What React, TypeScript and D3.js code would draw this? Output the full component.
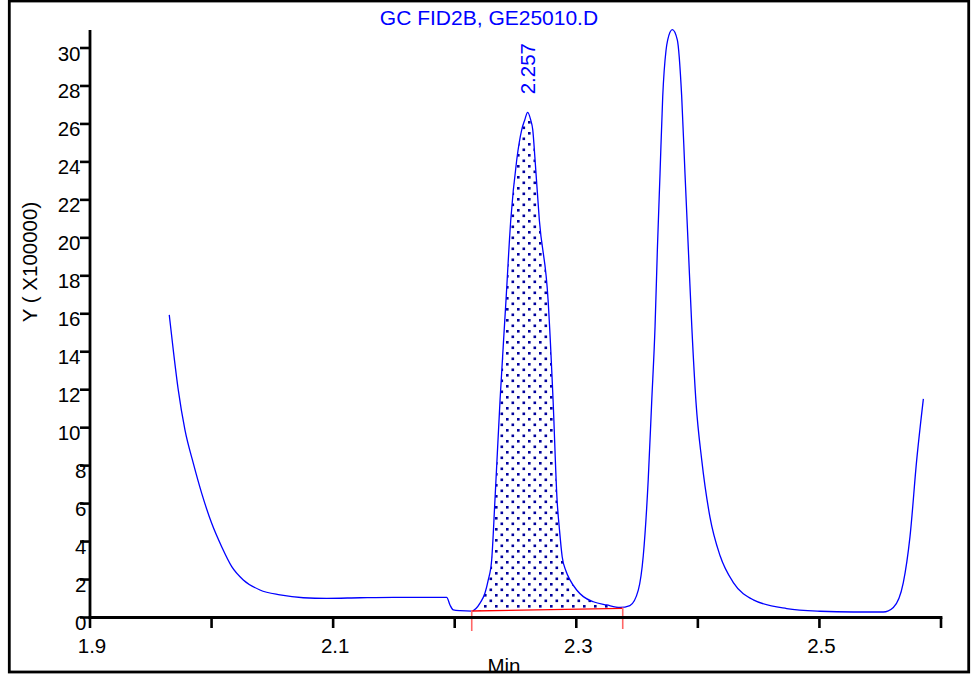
import React from "react";
import * as d3 from "d3";

// Chromatogram trace
const retentionMin = [
  1.9652, 1.9685, 1.9726, 1.9781, 1.985, 1.9919, 2.0001, 2.0083, 2.0166, 2.0261,
  2.0398, 2.0563, 2.0755, 2.0947, 2.1221, 2.1495, 2.1934, 2.1961, 2.1988, 2.2044,
  2.214, 2.2175, 2.2208, 2.2249, 2.2276, 2.2304, 2.2331, 2.2373, 2.2422, 2.2461,
  2.251, 2.2551, 2.2576, 2.26, 2.2625, 2.2642, 2.2661, 2.2696, 2.2768, 2.2809,
  2.2842, 2.2862, 2.2884, 2.2915, 2.2948, 2.3003, 2.3058, 2.314, 2.325, 2.336,
  2.3441, 2.351, 2.3551, 2.3592, 2.362, 2.3648, 2.3667, 2.3689, 2.3711, 2.3738,
  2.3752, 2.379, 2.3831, 2.3867, 2.3894, 2.3922, 2.395, 2.3985, 2.4032, 2.41,
  2.4183, 2.4292, 2.4456, 2.4731, 2.5005, 2.5279, 2.5525, 2.5608, 2.569, 2.5745,
  2.58, 2.5855,
];
const signal = [
  15.94, 14.09, 11.99, 9.88, 8.12, 6.54, 4.96, 3.73, 2.68, 1.98,
  1.45, 1.19, 1.04, 1.01, 1.04, 1.06, 1.06, 0.66, 0.4, 0.36,
  0.34, 0.47, 0.76, 1.29, 1.98, 3.03, 6.19, 11.46, 16.73, 20.94,
  24.1, 25.69, 26.21, 26.61, 26.21, 25.69, 24.1, 20.94, 16.73, 11.46,
  6.19, 4.6, 3.2, 2.45, 1.98, 1.45, 1.1, 0.83, 0.66, 0.53,
  0.63, 1.44, 3.25, 7.29, 11.32, 15.35, 19.38, 23.41, 27.45, 29.87,
  30.43, 30.97, 30.43, 27.45, 23.41, 19.38, 15.35, 11.32, 8.29, 5.27,
  3.25, 1.84, 0.93, 0.47, 0.33, 0.29, 0.29, 0.53, 1.84, 4.26,
  8.29, 11.52,
];

// Integration of the peak at 2.257
const integrationTimes = [2.214, 2.3382];
const integrationBaseline = [0.34, 0.48];
const peakLabel = "2.257";
const peakApexTime = 2.26;
const peakApexValue = 26.61;

// Axes
const xTicks = [1.9, 2.0, 2.1, 2.2, 2.3, 2.4, 2.5, 2.6];
const xTickLabels = ["1.9", "2.1", "2.3", "2.5"];
const yTicks = [0, 2, 4, 6, 8, 10, 12, 14, 16, 18, 20, 22, 24, 26, 28, 30];
const yAxisMax = 30.95;

const title = "GC FID2B, GE25010.D";
const yTitle = "Y ( X100000)";
const xTitle = "Min";

const W = 971;
const H = 675;
const FONT = "'Liberation Sans', Arial, sans-serif";

export default function App() {
  const x = d3.scaleLinear().domain([1.9, 2.6]).range([90, 941]);
  const y = d3.scaleLinear().domain([0, 30]).range([617.5, 48]);
  const data = retentionMin.map((t, i) => ({ t, v: signal[i] }));
  const base = d3.scaleLinear().domain(integrationTimes).range(integrationBaseline);
  const curve = d3.curveMonotoneX;

  const line = d3
    .line<{ t: number; v: number }>()
    .x((d) => x(d.t))
    .y((d) => y(d.v))
    .curve(curve);
  const area = d3
    .area<{ t: number; v: number }>()
    .x((d) => x(d.t))
    .y0((d) => y(base(d.t)))
    .y1((d) => y(d.v))
    .curve(curve);

  const x0 = x(integrationTimes[0]);
  const x1 = x(integrationTimes[1]);
  const y0 = y(integrationBaseline[0]);
  const y1 = y(integrationBaseline[1]);
  const axisY = y(0);

  return (
    <svg
      width={W}
      height={H}
      style={{ position: "absolute", left: 0, top: 0, background: "#fff" }}
      fontFamily={FONT}
    >
      <defs>
        <pattern id="dots" width={11} height={11} patternUnits="userSpaceOnUse">
          <rect width={11} height={11} fill="#fff" />
          <rect x={0} y={0} width={2.6} height={2.6} fill="#00009c" />
          <rect x={5.5} y={5.5} width={2.6} height={2.6} fill="#00009c" />
        </pattern>
        <clipPath id="intClip">
          <rect x={x0} y={0} width={x1 - x0} height={H} />
        </clipPath>
      </defs>

      {/* integrated area */}
      <path d={area(data) || ""} fill="url(#dots)" clipPath="url(#intClip)" />

      {/* trace */}
      <path d={line(data) || ""} fill="none" stroke="#0000ff" strokeWidth={1.3} />

      {/* integration baseline */}
      <line x1={x0} y1={y0} x2={x1} y2={y1} stroke="#ff0000" strokeWidth={1.4} />
      <line x1={x0} y1={y0 - 1} x2={x0} y2={631} stroke="#ff6666" strokeWidth={1.6} />
      <line x1={x1} y1={y1 - 1} x2={x1} y2={629} stroke="#ff6666" strokeWidth={1.6} />

      {/* axes */}
      <line x1={90} y1={y(yAxisMax)} x2={90} y2={axisY + 1.4} stroke="#000" strokeWidth={2.8} />
      <line x1={88.6} y1={axisY} x2={x(2.6) + 1.4} y2={axisY} stroke="#000" strokeWidth={2.8} />
      {yTicks.map((t) => (
        <g key={"y" + t}>
          <line x1={80} y1={y(t)} x2={90} y2={y(t)} stroke="#000" strokeWidth={2.6} />
          <text
            x={String(t).length === 1 ? 86.5 : 80.5}
            y={y(t) + 12.5}
            textAnchor="end"
            fontSize={20.5}
            fill="#000"
          >
            {t}
          </text>
        </g>
      ))}
      {xTicks.map((t) => (
        <line key={"x" + t} x1={x(t)} y1={axisY} x2={x(t)} y2={628} stroke="#000" strokeWidth={2.6} />
      ))}
      {xTickLabels.map((s) => (
        <text key={"xl" + s} x={x(+s) + 2} y={653} textAnchor="middle" fontSize={20.5} fill="#000">
          {s}
        </text>
      ))}

      {/* titles */}
      <text x={489} y={25} textAnchor="middle" fontSize={21} fill="#0000ff">
        {title}
      </text>
      <text
        transform={`translate(${x(peakApexTime) + 7.5},${y(peakApexValue) - 18}) rotate(-90)`}
        textAnchor="start"
        fontSize={20.5}
        fill="#0000ff"
      >
        {peakLabel}
      </text>
      <text transform="translate(37,262) rotate(-90)" textAnchor="middle" fontSize={20.5} fill="#000">
        {yTitle}
      </text>
      <text x={504} y={673} textAnchor="middle" fontSize={20.5} fill="#000">
        {xTitle}
      </text>

      {/* frame */}
      <rect x={9.3} y={1} width={959.4} height={671} fill="none" stroke="#000" strokeWidth={2.8} />
    </svg>
  );
}
